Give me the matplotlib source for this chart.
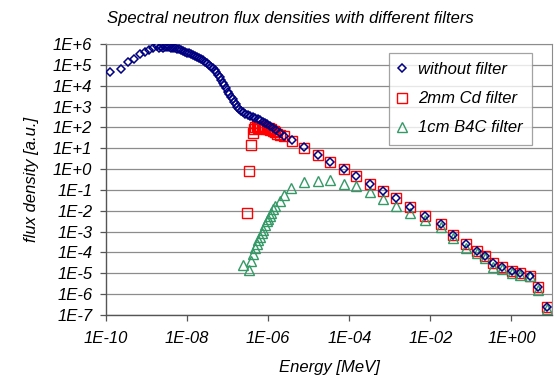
import math
import matplotlib
matplotlib.use('Agg')
import matplotlib.pyplot as plt
from matplotlib.ticker import FixedLocator, FuncFormatter, NullLocator

plt.rcParams['font.family'] = ['Liberation Sans', 'DejaVu Sans']
plt.rcParams['font.style'] = 'italic'

# log10 energy [MeV] / log10 flux density [a.u.]
free_logE = [-9.89, -9.64, -9.45, -9.31, -9.16, -9.04, -8.94, -8.84, -8.75, -8.70,
             -8.65, -8.60, -8.55, -8.50, -8.45, -8.40, -8.35, -8.30, -8.25, -8.20,
             -8.15, -8.10, -8.05, -8.00, -7.95, -7.90, -7.85, -7.80, -7.75, -7.70,
             -7.65, -7.60, -7.55, -7.50, -7.45, -7.40, -7.36, -7.32, -7.28, -7.24,
             -7.20, -7.16, -7.12, -7.08, -7.04, -7.00, -6.96, -6.92, -6.88, -6.84,
             -6.80, -6.76, -6.72, -6.67, -6.62, -6.56, -6.50, -6.44, -6.38, -6.32,
             -6.26, -6.20, -6.14, -6.08, -6.02, -5.95, -5.88, -5.81, -5.72, -5.60,
             -5.41, -5.11, -4.78, -4.47, -4.14, -3.84, -3.50, -3.16, -2.84, -2.51,
             -2.12, -1.75, -1.44, -1.11, -0.84, -0.65, -0.46, -0.24, 0.02, 0.22,
             0.46, 0.66, 0.87]
free_logF = [4.67, 4.80, 5.15, 5.27, 5.51, 5.63, 5.71, 5.79, 5.90, 5.82,
             5.86, 5.83, 5.87, 5.84, 5.86, 5.83, 5.82, 5.80, 5.76, 5.74,
             5.70, 5.66, 5.62, 5.59, 5.55, 5.51, 5.47, 5.42, 5.38, 5.33,
             5.27, 5.22, 5.15, 5.08, 5.00, 4.92, 4.84, 4.75, 4.64, 4.52,
             4.40, 4.27, 4.15, 4.03, 3.88, 3.72, 3.60, 3.47, 3.35, 3.22,
             3.10, 2.98, 2.88, 2.80, 2.73, 2.66, 2.60, 2.54, 2.50, 2.45,
             2.40, 2.34, 2.28, 2.22, 2.14, 2.06, 1.98, 1.88, 1.75, 1.59,
             1.38, 1.05, 0.68, 0.34, -0.01, -0.35, -0.70, -1.05, -1.39, -1.83,
             -2.23, -2.63, -3.16, -3.59, -3.93, -4.17, -4.52, -4.71, -4.87, -5.00,
             -5.13, -5.64, -6.60]

cd_logE = [-6.52, -6.48, -6.42, -6.38, -6.35, -6.32, -6.28, -6.25, -6.22, -6.19,
           -6.16, -6.13, -6.10, -6.07, -6.04, -6.01, -5.98, -5.95, -5.92, -5.89,
           -5.86, -5.82, -5.78, -5.72, -5.60, -5.41, -5.11, -4.78, -4.47, -4.14,
           -3.84, -3.50, -3.16, -2.84, -2.51, -2.12, -1.75, -1.44, -1.11, -0.84,
           -0.65, -0.46, -0.24, 0.02, 0.22, 0.46, 0.66, 0.87]
cd_logF = [-2.09, -0.09, 1.16, 1.72, 1.90, 2.00, 2.05, 1.95, 2.05, 1.98,
           2.02, 1.95, 2.00, 1.92, 1.98, 1.90, 1.95, 1.88, 1.90, 1.83,
           1.85, 1.78, 1.70, 1.62, 1.59, 1.36, 1.03, 0.68, 0.34, -0.01,
           -0.35, -0.70, -1.05, -1.39, -1.83, -2.23, -2.63, -3.16, -3.59, -3.93,
           -4.17, -4.52, -4.71, -4.87, -5.00, -5.13, -5.64, -6.60]

b4c_logE = [-6.61, -6.48, -6.43, -6.38, -6.33, -6.28, -6.24, -6.20, -6.16, -6.12,
            -6.08, -6.04, -6.00, -5.96, -5.92, -5.87, -5.82, -5.70, -5.60, -5.43,
            -5.11, -4.78, -4.47, -4.14, -3.84, -3.50, -3.16, -2.85, -2.51, -2.12,
            -1.75, -1.44, -1.11, -0.84, -0.65, -0.46, -0.24, 0.02, 0.22, 0.46,
            0.66, 0.87]
b4c_logF = [-4.60, -4.84, -4.40, -4.05, -3.80, -3.60, -3.40, -3.25, -3.05, -2.90,
            -2.70, -2.50, -2.38, -2.25, -2.10, -1.90, -1.75, -1.55, -1.24, -0.92,
            -0.60, -0.55, -0.52, -0.71, -0.80, -1.11, -1.42, -1.77, -2.12, -2.44,
            -2.79, -3.32, -3.80, -4.04, -4.28, -4.68, -4.78, -5.00, -5.07, -5.15,
            -5.80, -6.72]

x_ticks = [1e-10, 1e-8, 1e-6, 1e-4, 1e-2, 1e0]
y_ticks = [10.0 ** k for k in range(-7, 7)]


def pw(vals):
    return [10.0 ** v for v in vals]


def exp_label(v, width):
    e = int(round(math.log10(v)))
    sign = '+' if e >= 0 else '-'
    return f'1E{sign}{abs(e):0{width}d}'


fig = plt.figure(figsize=(5.54, 3.78), dpi=100)
ax = fig.add_axes([106 / 554, 1 - 315 / 378, 446 / 554, 271 / 378])

ax.plot(pw(free_logE), pw(free_logF), linestyle='none', marker='D', ms=4.0,
        mfc='none', mec='#000080', mew=1.1, label='without filter', zorder=3)
ax.plot(pw(cd_logE), pw(cd_logF), linestyle='none', marker='s', ms=6.5,
        mfc='none', mec='#ff0000', mew=1.0, label='2mm Cd filter', zorder=2)
ax.plot(pw(b4c_logE), pw(b4c_logF), linestyle='none', marker='^', ms=6.5,
        mfc='none', mec='#339966', mew=1.0, label='1cm B4C filter', zorder=2)

ax.set_xscale('log')
ax.set_yscale('log')
ax.set_xlim(1e-10, 1e1)
ax.set_ylim(1e-7, 1e6)

ax.xaxis.set_major_locator(FixedLocator(x_ticks))
ax.xaxis.set_minor_locator(NullLocator())
ax.yaxis.set_major_locator(FixedLocator(y_ticks))
ax.yaxis.set_minor_locator(NullLocator())
ax.xaxis.set_major_formatter(FuncFormatter(lambda v, p: exp_label(v, 2)))
ax.yaxis.set_major_formatter(FuncFormatter(lambda v, p: exp_label(v, 1)))

ax.tick_params(axis='both', direction='out', length=4.3, width=0.9, color='#555555',
               labelsize=12)
ax.tick_params(axis='x', pad=7)
ax.tick_params(axis='y', pad=5.5)
ax.grid(axis='y', color='#8c8c8c', linewidth=0.9)
ax.set_axisbelow(True)
for side in ['left', 'bottom']:
    ax.spines[side].set_color('#555555')
    ax.spines[side].set_linewidth(1.0)
ax.spines['top'].set_color('#8c8c8c')
ax.spines['right'].set_color('#8c8c8c')

ax.set_xlabel('Energy [MeV]', fontsize=12, labelpad=10)
ax.set_ylabel('flux density [a.u.]', fontsize=12, labelpad=10)
fig.text(290 / 554, 1 - 18 / 378, 'Spectral neutron flux densities with different filters',
         ha='center', va='center', fontsize=12)

leg = ax.legend(loc='upper right', bbox_to_anchor=(532 / 554, 1 - 53 / 378),
                bbox_transform=fig.transFigure,
                fontsize=12, frameon=True, fancybox=False, edgecolor='#8c8c8c',
                borderpad=0.55, labelspacing=0.85, handlelength=0.4, handletextpad=0.8,
                borderaxespad=0)
leg.get_frame().set_linewidth(0.9)

fig.savefig('out.png', dpi=100)
